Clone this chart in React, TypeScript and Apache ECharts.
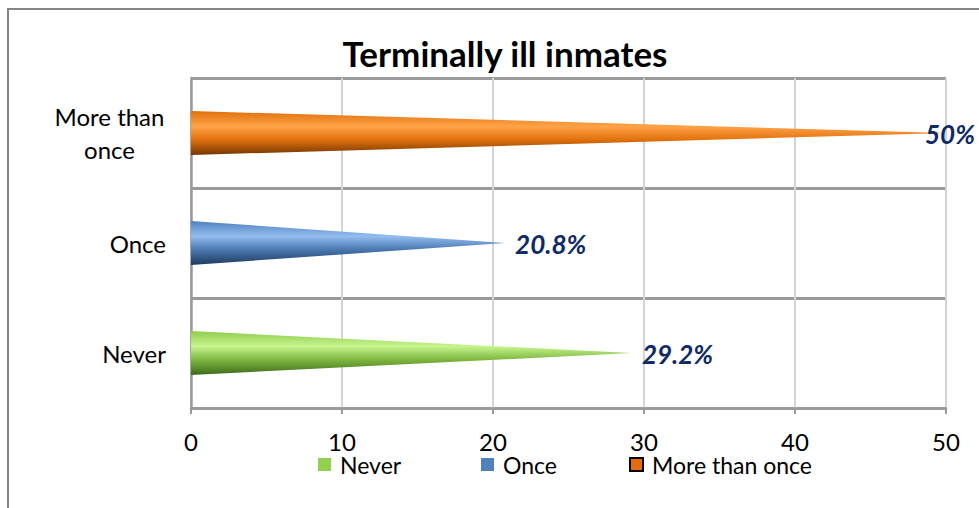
import React, { useEffect, useRef } from "react";
import * as echarts from "echarts";

const categories = ["Never", "Once", "More than once"];
const seriesNames = ["Never", "Once", "More than once"];
const values = [29.2, 20.8, 50];
const tickMax = 50;
const tickStep = 10;
const title = "Terminally ill inmates";

const solidColors = ["#92D050", "#4F81BD", "#E46C0A"];
const gradients = [
  ["#8fcc4c", "#c6f58e", "#7fb840", "#3f6a1a"],
  ["#4f81bd", "#93bdf0", "#4a78b0", "#1f3b5e"],
  ["#e0700c", "#ffa347", "#e2720d", "#733500"],
];

const FONT = "Lato, 'Open Sans', sans-serif";

export default function App() {
  const ref = useRef<HTMLDivElement>(null);
  useEffect(() => {
    document.body.style.margin = "0";
    const chart = echarts.init(ref.current!, null, { renderer: "svg" });
    const series = seriesNames.map((name, i) => ({
      type: "custom",
      name,
      itemStyle: { color: solidColors[i] },
      data: [[values[i], i]],
      renderItem: (params: any, api: any) => {
        const v = api.value(0);
        const c = api.value(1);
        const base = api.coord([0, c]);
        const tip = api.coord([v, c]);
        const band = api.size([0, 1])[1];
        const h = band * 0.4;
        const cs = params.coordSys;
        const right = cs.x + cs.width;
        const g = gradients[i];
        const labelX = Math.min(tip[0] + 10, right - 21);
        return {
          type: "group",
          children: [
            {
              type: "polygon",
              shape: {
                points: [
                  [base[0], base[1] - h / 2],
                  [tip[0], tip[1]],
                  [base[0], base[1] + h / 2],
                ],
              },
              style: {
                fill: new echarts.graphic.LinearGradient(0, 0, 0, 1, [
                  { offset: 0, color: g[0] },
                  { offset: 0.35, color: g[1] },
                  { offset: 0.65, color: g[2] },
                  { offset: 1, color: g[3] },
                ]),
              },
            },
            {
              type: "text",
              x: labelX,
              y: tip[1] + 1,
              style: {
                text: (Math.round(v * 10) / 10).toString() + "%",
                fill: "#0F2A66",
                font: `italic bold 26px ${FONT}`,
                textAlign: "left",
                textVerticalAlign: "middle",
              },
            },
          ],
        };
      },
    }));

    const legendText = { fontFamily: FONT, fontSize: 23, color: "#000", padding: [0, 0, 0, 4], lineHeight: 18 };
    const legendPos = [318, 481, 629];
    const legends = seriesNames.map((name, i) => ({
      left: legendPos[i],
      top: 453,
      padding: 0,
      icon: "rect",
      itemWidth: 13,
      itemHeight: 13,
      textStyle: legendText,
      data: [
        i === 2
          ? { name, itemStyle: { borderColor: "#000", borderWidth: 2 } }
          : { name },
      ],
    }));

    chart.setOption({
      animation: false,
      title: {
        text: title,
        left: 500,
        top: 30,
        textAlign: "center",
        textStyle: { fontFamily: FONT, fontWeight: "bold", fontSize: 35, color: "#000" },
      },
      graphic: [
        {
          type: "rect",
          shape: { x: 8, y: 9, width: 1000, height: 600 },
          style: { fill: "none", stroke: "#868686", lineWidth: 2 },
          silent: true,
          z: -1,
        },
      ],
      legend: legends,
      grid: { left: 191, right: 33, top: 78, bottom: 100 },
      xAxis: {
        type: "value",
        min: 0,
        max: tickMax,
        interval: tickStep,
        axisLine: { show: true, lineStyle: { color: "#9a9a9a", width: 2.5 } },
        axisTick: { show: true, length: 6, lineStyle: { color: "#9a9a9a", width: 2 } },
        axisLabel: { fontFamily: FONT, fontSize: 24, color: "#000", margin: 23, lineHeight: 20 },
        splitLine: { show: true, lineStyle: { color: "#d4d4d4", width: 2 } },
      },
      yAxis: {
        type: "category",
        data: categories,
        axisLine: { show: true, lineStyle: { color: "#9a9a9a", width: 2.5 } },
        axisTick: { show: false },
        splitLine: { show: true, lineStyle: { color: "#9a9a9a", width: 3 } },
        axisLabel: {
          fontFamily: FONT,
          fontSize: 24,
          color: "#000",
          margin: 25,
          align: "right",
          formatter: (val: string) =>
            val === "More than once" ? "{m|More than}\n{m|once}" : val,
          rich: {
            m: { width: 113, align: "center", fontFamily: FONT, fontSize: 24, color: "#000", lineHeight: 33 },
          },
        },
      },
      series,
    });
    return () => chart.dispose();
  }, []);
  return <div ref={ref} style={{ width: 979, height: 508 }} />;
}
